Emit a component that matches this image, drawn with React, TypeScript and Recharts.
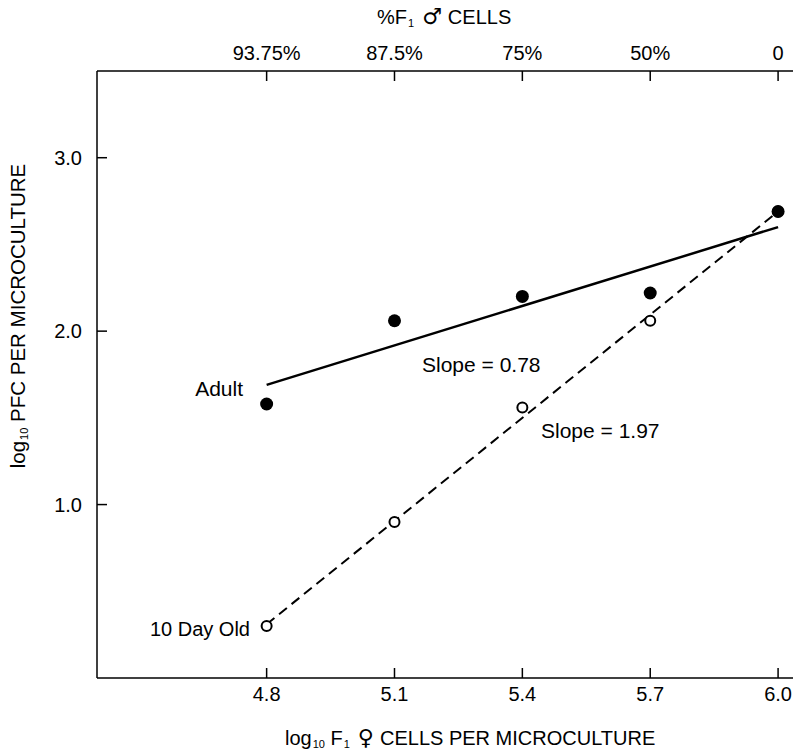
import React from 'react'
import { ScatterChart, Scatter, XAxis, YAxis } from 'recharts'

const X_TICKS = [4.8, 5.1, 5.4, 5.7, 6.0]
const TOP_LABELS = ['93.75%', '87.5%', '75%', '50%', '0']
const Y_TICKS = [1.0, 2.0, 3.0]

const ADULT = [
  { x: 4.8, y: 1.58 },
  { x: 5.1, y: 2.06 },
  { x: 5.4, y: 2.2 },
  { x: 5.7, y: 2.22 },
  { x: 6.0, y: 2.69 },
]
const TEN_DAY = [
  { x: 4.8, y: 0.3 },
  { x: 5.1, y: 0.9 },
  { x: 5.4, y: 1.56 },
  { x: 5.7, y: 2.06 },
  { x: 6.0, y: 2.69 },
]
// fitted lines (end points)
const ADULT_FIT = [
  { x: 4.8, y: 1.69 },
  { x: 6.0, y: 2.6 },
]
const TEN_DAY_FIT = [
  { x: 4.8, y: 0.31 },
  { x: 6.0, y: 2.69 },
]

const INK = '#000'
const FONT = '"Liberation Sans", Arial, Helvetica, sans-serif'

function BottomTick({ x, y, payload }: any) {
  return (
    <g>
      <line x1={x} y1={y} x2={x} y2={y - 10} stroke={INK} strokeWidth={1.5} />
      <text x={x} y={y + 23} textAnchor="middle" fontSize={20} fill={INK} fontFamily={FONT}>
        {payload.value.toFixed(1)}
      </text>
    </g>
  )
}

function TopTick({ x, y, payload, index }: any) {
  return (
    <g>
      <line x1={x} y1={y} x2={x} y2={y + 10} stroke={INK} strokeWidth={1.5} />
      <text x={x} y={y - 11} textAnchor="middle" fontSize={20} fill={INK} fontFamily={FONT}>
        {TOP_LABELS[index] ?? payload.value}
      </text>
    </g>
  )
}

function LeftTick({ x, y, payload }: any) {
  return (
    <g>
      <line x1={x} y1={y} x2={x + 10} y2={y} stroke={INK} strokeWidth={1.5} />
      <text x={x - 15} y={y + 7} textAnchor="end" fontSize={20} fill={INK} fontFamily={FONT}>
        {payload.value.toFixed(1)}
      </text>
    </g>
  )
}

const FilledDot = ({ cx, cy }: any) => <circle cx={cx} cy={cy} r={6.5} fill={INK} />
const OpenDot = ({ cx, cy }: any) => (
  <circle cx={cx} cy={cy} r={5} fill="#fff" stroke={INK} strokeWidth={2} />
)
const NoDot = () => <g />

// left: anchor at the left edge; right: anchor at the right edge
function Note({ left, right, top, children, size = 21 }: any) {
  return (
    <div
      style={{
        position: 'absolute',
        left: left ?? undefined,
        right: right !== undefined ? 793 - right : undefined,
        top,
        transform: 'translateY(-50%)',
        fontSize: size,
        lineHeight: 1,
        whiteSpace: 'nowrap',
        color: INK,
        fontFamily: FONT,
      }}
    >
      {children}
    </div>
  )
}

const sub: React.CSSProperties = { fontSize: 11, verticalAlign: -3, marginLeft: 1 }
const sym: React.CSSProperties = { fontFamily: '"DejaVu Sans"', fontSize: 22, margin: '0 6px 0 8px' }

export default function App() {
  return (
    <div style={{ position: 'absolute', left: 0, top: 0, width: 793, height: 749, background: '#fff', overflow: 'hidden' }}>
      <ScatterChart width={793} height={749} margin={{ top: 41, right: 0, bottom: 41, left: 67 }}>
        <XAxis
          type="number"
          dataKey="x"
          domain={[4.402, 6.035]}
          ticks={X_TICKS}
          height={30}
          tickSize={0}
          tickMargin={0}
          tick={<BottomTick />}
          axisLine={{ stroke: INK, strokeWidth: 1.5 }}
          allowDataOverflow
        />
        <XAxis
          xAxisId="top"
          orientation="top"
          type="number"
          dataKey="x"
          domain={[4.402, 6.035]}
          ticks={X_TICKS}
          height={30}
          tickSize={0}
          tickMargin={0}
          tick={<TopTick />}
          axisLine={{ stroke: INK, strokeWidth: 1.5 }}
          allowDataOverflow
        />
        <YAxis
          type="number"
          dataKey="y"
          domain={[0, 3.5]}
          ticks={Y_TICKS}
          width={30}
          tickSize={0}
          tickMargin={0}
          tick={<LeftTick />}
          axisLine={{ stroke: INK, strokeWidth: 1.5 }}
          allowDataOverflow
        />
        <Scatter
          data={ADULT_FIT}
          line={{ stroke: INK, strokeWidth: 2.5 }}
          shape={NoDot}
          isAnimationActive={false}
        />
        <Scatter
          data={TEN_DAY_FIT}
          line={{ stroke: INK, strokeWidth: 2, strokeDasharray: '10 6' }}
          shape={NoDot}
          isAnimationActive={false}
        />
        <Scatter data={TEN_DAY} shape={OpenDot} isAnimationActive={false} />
        <Scatter data={ADULT} shape={FilledDot} isAnimationActive={false} />
      </ScatterChart>

      <Note left={377} top={17} size={20}>
        %F<span style={sub}>1</span><span style={sym}>♂</span>CELLS
      </Note>
      <Note left={285} top={738} size={20}>
        log<span style={sub}>10</span> F<span style={sub}>1</span>
        <span style={sym}>♀</span>CELLS PER MICROCULTURE
      </Note>
      <div
        style={{
          position: 'absolute',
          left: 19,
          top: 316,
          transform: 'translate(-50%, -50%) rotate(-90deg)',
          fontSize: 20.5,
          lineHeight: 1,
          whiteSpace: 'nowrap',
          color: INK,
          fontFamily: FONT,
        }}
      >
        log<span style={sub}>10</span> PFC PER MICROCULTURE
      </div>

      <Note right={243} top={388}>Adult</Note>
      <Note right={250} top={629} size={20}>10 Day Old</Note>
      <Note left={422} top={364}>Slope = 0.78</Note>
      <Note left={541} top={430}>Slope = 1.97</Note>
    </div>
  )
}
